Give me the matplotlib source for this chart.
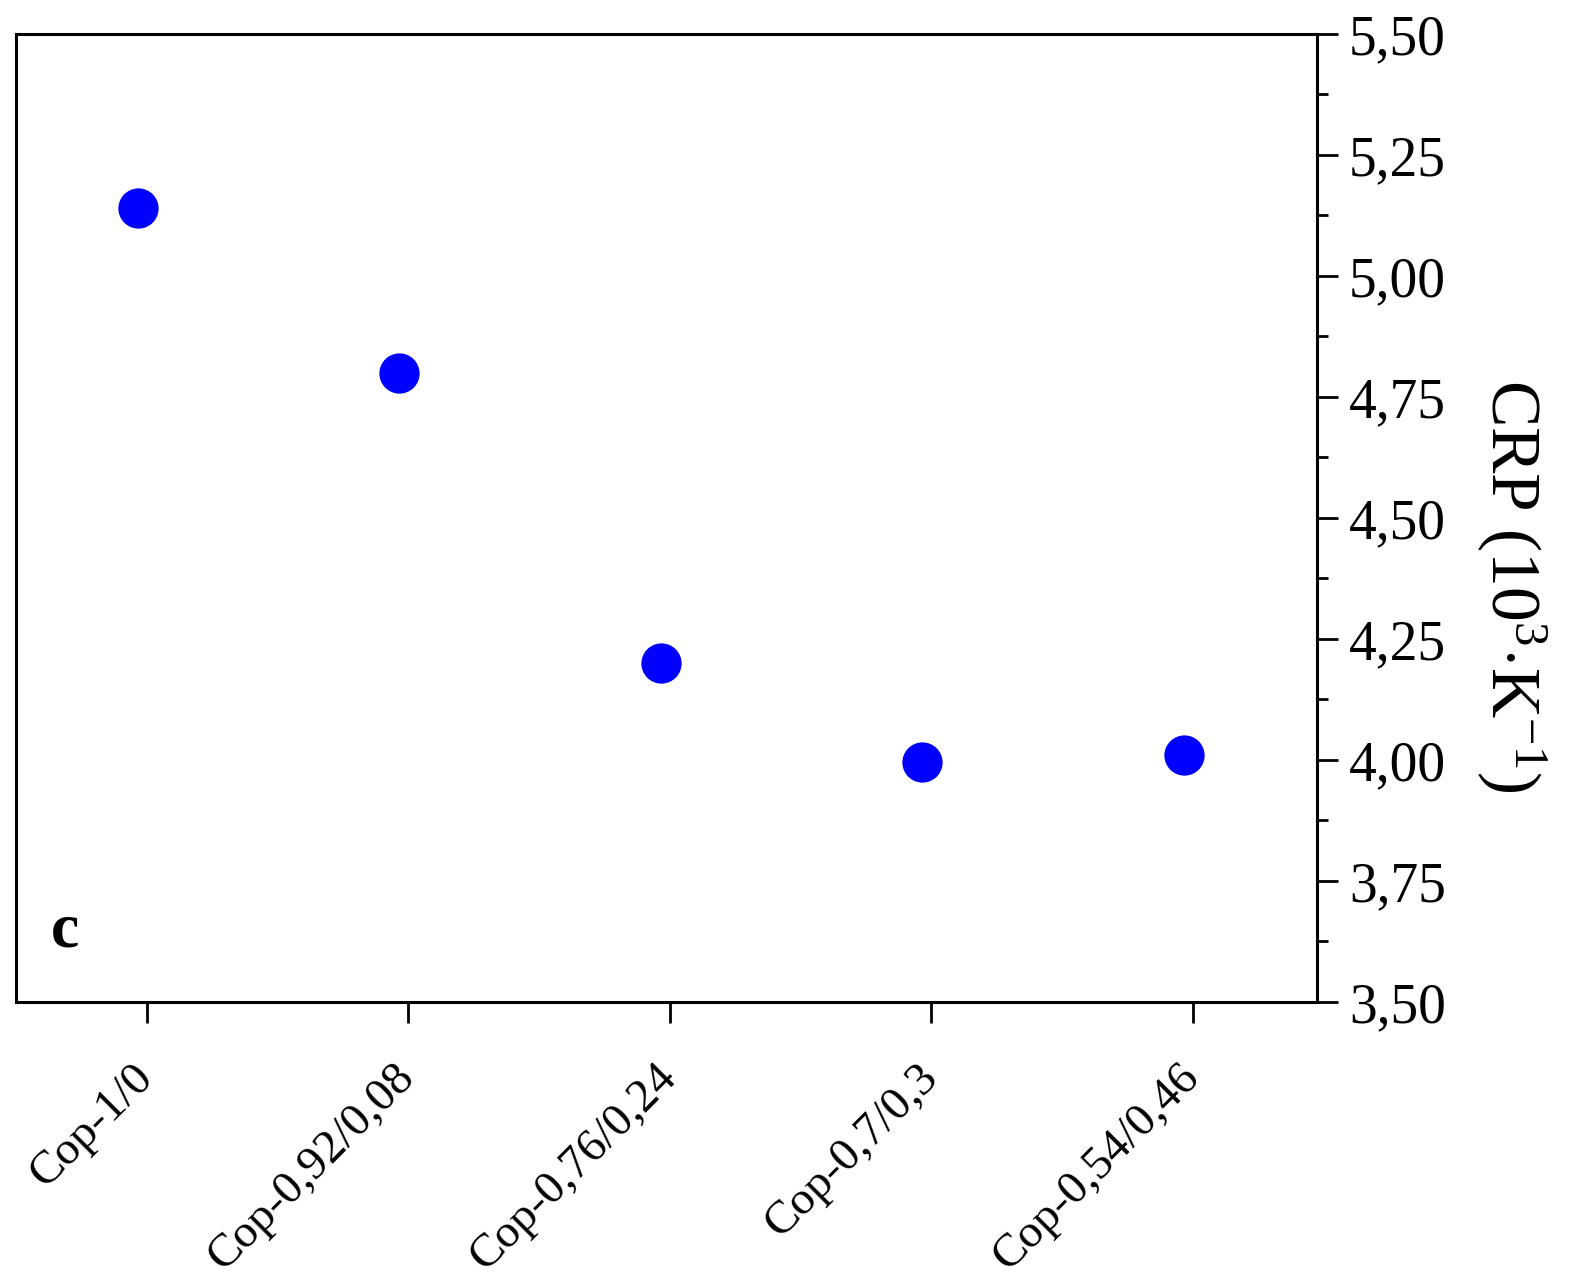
import matplotlib
matplotlib.use("Agg")
from matplotlib import pyplot as plt
from matplotlib.ticker import MultipleLocator
from matplotlib.transforms import ScaledTranslation

plt.rcParams["font.family"] = ["Liberation Serif", "DejaVu Serif"]
plt.rcParams["mathtext.fontset"] = "custom"
plt.rcParams["mathtext.rm"] = "Liberation Serif"
plt.rcParams["mathtext.it"] = "Liberation Serif:italic"

# sample names and CRP values (10^3 K^-1)
samples = ["Cop-1/0", "Cop-0,92/0,08", "Cop-0,76/0,24", "Cop-0,7/0,3", "Cop-0,54/0,46"]
crp = [5.14, 4.80, 4.20, 3.995, 4.01]
y_ticks = [3.50, 3.75, 4.00, 4.25, 4.50, 4.75, 5.00, 5.25, 5.50]

fig = plt.figure(figsize=(15.83, 12.81), dpi=100)
ax = fig.add_axes([0.0101, 0.2178, 0.822, 0.7557])

# markers sit a little left of the tick marks in the original
shift = ax.transData + ScaledTranslation(-9 / 100, 0, fig.dpi_scale_trans)
xs = list(range(len(samples)))
ax.plot(xs, crp, "o", color="#0000ff", markersize=29, markeredgewidth=0, transform=shift)

ax.set_xlim(-0.5, 4.475)
ax.set_ylim(y_ticks[0], y_ticks[-1])

ax.set_xticks(xs)
ax.set_xticklabels(samples, rotation=45, ha="right", fontsize=34)
ax.tick_params(axis="x", direction="out", length=15, width=2, pad=24, top=False)
label_shift = ScaledTranslation(15 / 100, 0, fig.dpi_scale_trans)
for lbl in ax.get_xticklabels():
    lbl.set_transform(lbl.get_transform() + label_shift)

ax.yaxis.tick_right()
ax.yaxis.set_label_position("right")
ax.set_yticks(y_ticks)
ax.yaxis.set_minor_locator(MultipleLocator(0.125))
ax.set_yticklabels([f"{v:.2f}".replace(".", ",") for v in y_ticks])
ax.tick_params(axis="y", which="major", direction="out", length=15, width=2,
               pad=8, labelsize=40, left=False, right=True)
ax.tick_params(axis="y", which="minor", direction="out", length=8, width=2,
               left=False, right=True)
ax.set_ylabel(r"CRP (10$^{3}$$\cdot$K$^{-1}$)", fontsize=50, rotation=270,
              va="center", ha="center")
ax.yaxis.set_label_coords(1.149, 0.43)

for s in ax.spines.values():
    s.set_linewidth(2.2)

ax.text(0.0377, 0.073, "c", transform=ax.transAxes, fontsize=46, fontweight="bold",
        ha="center", va="center")

fig.savefig("out.png", dpi=100)
